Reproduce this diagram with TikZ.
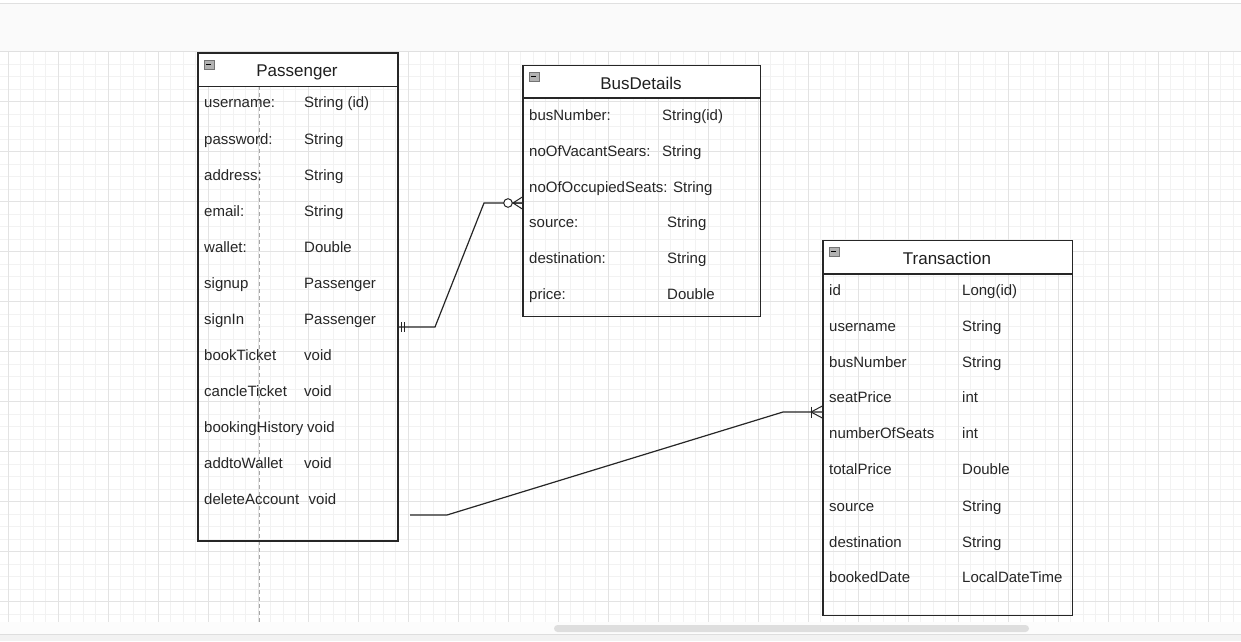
\documentclass[tikz,border=0pt]{standalone}
\usepackage{fontspec}
\setmainfont{Liberation Sans}
\begin{document}
\begin{tikzpicture}[x=1pt,y=-1pt,
  ink/.style={draw=black!85, line width=1.2pt},
  ent/.style={draw=black!85, line width=1.2pt, rectangle, inner sep=0pt, anchor=north west},
  hdr/.style={fill=white, draw=black!85, line width=1.2pt, rectangle, inner sep=0pt, anchor=north west},
  ttl/.style={font=\fontsize{17}{19}\selectfont, text=black!88, inner sep=0pt, text height=12.2pt, text depth=3.6pt, yshift=-1.8pt},
  fld/.style={font=\fontsize{15}{17}\selectfont, text=black!85, anchor=west, inner sep=0pt, text height=10.8pt, text depth=3.2pt, yshift=-2pt},
  minor/.style={draw=black!5, line width=0.8pt},
  major/.style={draw=black!11, line width=0.9pt},
  icon/.style={draw=black!55, fill=black!30, line width=0.6pt, rectangle, minimum width=10pt, minimum height=9pt, inner sep=0pt, anchor=north west}]
\useasboundingbox (0,0) rectangle (1241,641);
% background bands
\fill[white] (0,0) rectangle (1241,641);
\fill[black!2] (0,3.5) rectangle (1241,50.5);
\draw[black!12, line width=1pt] (0,3.5) -- (1241,3.5);
\draw[black!12, line width=1pt] (0,51) -- (1241,51);
\fill[black!1] (0,622) rectangle (1241,634);
\fill[black!5] (0,634) rectangle (1241,641);
\draw[black!13, line width=1pt] (0,634) -- (1241,634);
% grid
\foreach \gx in {-4.5,8,...,1245} \draw[minor] (\gx,52) -- (\gx,622);
\foreach \gy in {64.2,76.7,...,622} \draw[minor] (0,\gy) -- (1241,\gy);
\foreach \gx in {8,58,...,1245} \draw[major] (\gx,52) -- (\gx,622);
\foreach \gy in {101.7,151.7,...,622} \draw[major] (0,\gy) -- (1241,\gy);
% scrollbar
\fill[black!13, rounded corners=3.5pt] (554,625) rectangle (1029,632);
% guide line
\draw[black!35, dashed, line width=1pt, dash pattern=on 4pt off 3pt] (259,86) -- (259,622);

% ---------- Passenger ----------
\node[ent, minimum width=200pt, minimum height=488pt] (pass) at (197.3,52.3) {};
\node[hdr, minimum width=200pt, minimum height=33.4pt] (passh) at (197.3,52.3) {};
\node[ttl] (passt) at (297,70.5) {Passenger};
\node[icon] (passi) at (203.5,59.5) {};
\draw[black, line width=1pt] (passi.west) ++(2.5,0) -- ++(5,0);
\node[fld] (p1a) at (204,102) {username:};      \node[fld] (p1b) at (304,102) {String (id)};
\node[fld] (p2a) at (204,139) {password:};      \node[fld] (p2b) at (304,139) {String};
\node[fld] (p3a) at (204,175) {address:};       \node[fld] (p3b) at (304,175) {String};
\node[fld] (p4a) at (204,211) {email:};         \node[fld] (p4b) at (304,211) {String};
\node[fld] (p5a) at (204,247) {wallet:};        \node[fld] (p5b) at (304,247) {Double};
\node[fld] (p6a) at (204,283) {signup};         \node[fld] (p6b) at (304,283) {Passenger};
\node[fld] (p7a) at (204,319) {signIn};         \node[fld] (p7b) at (304,319) {Passenger};
\node[fld] (p8a) at (204,355) {bookTicket};     \node[fld] (p8b) at (304,355) {void};
\node[fld] (p9a) at (204,391) {cancleTicket};   \node[fld] (p9b) at (304,391) {void};
\node[fld] (p10a) at (204,427) {bookingHistory}; \node[fld] (p10b) at (307,427) {void};
\node[fld] (p11a) at (204,463) {addtoWallet};   \node[fld] (p11b) at (304,463) {void};
\node[fld] (p12a) at (204,499) {deleteAccount}; \node[fld] (p12b) at (308.5,499) {void};

% ---------- BusDetails ----------
\node[ent, minimum width=237.7pt, minimum height=251pt] (bus) at (522.3,65) {};
\node[hdr, minimum width=237.7pt, minimum height=32.4pt] (bush) at (522.3,65) {};
\node[ttl] (bust) at (641,83) {BusDetails};
\node[icon] (busi) at (528.5,71.5) {};
\draw[black, line width=1pt] (busi.west) ++(2.5,0) -- ++(5,0);
\node[fld] (b1a) at (529,115) {busNumber:};        \node[fld] (b1b) at (662,115) {String(id)};
\node[fld] (b2a) at (529,151) {noOfVacantSears:};  \node[fld] (b2b) at (662,151) {String};
\node[fld] (b3a) at (529,187) {noOfOccupiedSeats: String};
\node[fld] (b4a) at (529,222) {source:};           \node[fld] (b4b) at (667,222) {String};
\node[fld] (b5a) at (529,258) {destination:};      \node[fld] (b5b) at (667,258) {String};
\node[fld] (b6a) at (529,294) {price:};            \node[fld] (b6b) at (667,294) {Double};

% ---------- Transaction ----------
\node[ent, minimum width=249.7pt, minimum height=375pt] (trans) at (822.3,240) {};
\node[hdr, minimum width=249.7pt, minimum height=33.3pt] (transh) at (822.3,240) {};
\node[ttl] (transt) at (947,258) {Transaction};
\node[icon] (transi) at (828.5,246.5) {};
\draw[black, line width=1pt] (transi.west) ++(2.5,0) -- ++(5,0);
\node[fld] (t1a) at (829,290) {id};             \node[fld] (t1b) at (962,290) {Long(id)};
\node[fld] (t2a) at (829,326) {username};       \node[fld] (t2b) at (962,326) {String};
\node[fld] (t3a) at (829,362) {busNumber};      \node[fld] (t3b) at (962,362) {String};
\node[fld] (t4a) at (829,397) {seatPrice};      \node[fld] (t4b) at (962,397) {int};
\node[fld] (t5a) at (829,433) {numberOfSeats};  \node[fld] (t5b) at (962,433) {int};
\node[fld] (t6a) at (829,469) {totalPrice};     \node[fld] (t6b) at (962,469) {Double};
\node[fld] (t7a) at (829,506) {source};         \node[fld] (t7b) at (962,506) {String};
\node[fld] (t8a) at (829,542) {destination};    \node[fld] (t8b) at (962,542) {String};
\node[fld] (t9a) at (829,577) {bookedDate};     \node[fld] (t9b) at (962,577) {LocalDateTime};

% ---------- connectors ----------
\coordinate (c1s) at (pass.east |- 0,327);
\coordinate (c1e) at (bus.west |- 0,203);
\draw[ink] (c1s) -- (435,327) -- (484,203) -- (c1e);
% mandatory one (||) at Passenger
\draw[ink, line width=1pt] (401.5,322) -- (401.5,332) (404.5,322) -- (404.5,332);
% zero or many at BusDetails
\draw[ink, fill=white, line width=1pt] (508,203) circle (4.3pt);
\draw[ink, line width=1pt] (513,203) -- (c1e |- 0,197) (513,203) -- (c1e) (513,203) -- (c1e |- 0,209);

\coordinate (c2s) at (410,515);
\coordinate (c2e) at (trans.west |- 0,412);
\draw[ink] (c2s) -- (447,515) -- (783,412) -- (c2e);
% one or many at Transaction
\draw[ink, line width=1pt] (811,406.5) -- (811,417.5);
\draw[ink, line width=1pt] (811,412) -- (c2e |- 0,406) (811,412) -- (c2e |- 0,418);
\end{tikzpicture}
\end{document}
